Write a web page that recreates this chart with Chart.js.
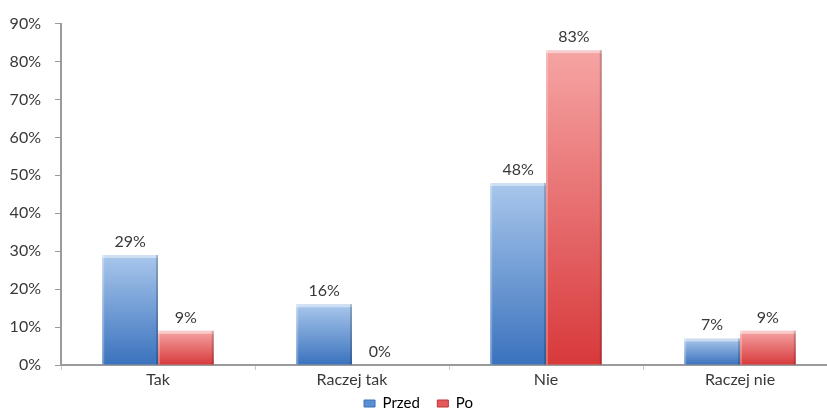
<!DOCTYPE html>
<html>
<head>
<meta charset="utf-8">
<script src="https://cdn.jsdelivr.net/npm/chart.js@4.4.1/dist/chart.umd.min.js"></script>
<style>
  html, body { margin: 0; padding: 0; background: #fff; overflow: hidden; }
  #wrap { width: 837px; height: 413px; }
</style>
</head>
<body>
<div id="wrap"><canvas id="c" width="837" height="413"></canvas></div>
<script>
// Survey answers before and after, in percent
const categories = ['Tak', 'Raczej tak', 'Nie', 'Raczej nie'];
const przed = [29, 16, 48, 7];
const po = [9, 0, 83, 9];
const yTicks = [0, 10, 20, 30, 40, 50, 60, 70, 80, 90];

const textColor = '#383838';
const fontFamily = 'Lato, "Noto Sans", sans-serif';

// Vertical gradient spanning one bar, from its top down to the baseline
function barGradient(light, dark) {
  return function (ctx) {
    const chart = ctx.chart;
    const y = chart.scales.y;
    if (!y || ctx.type !== 'data') return dark;
    const v = ctx.raw || 0;
    const top = y.getPixelForValue(v);
    const base = y.getPixelForValue(0);
    if (!isFinite(top) || !isFinite(base) || base - top < 1) return dark;
    const g = chart.ctx.createLinearGradient(0, top, 0, base);
    g.addColorStop(0, light);
    g.addColorStop(1, dark);
    return g;
  };
}

// Percent labels above each bar
const valueLabels = {
  id: 'valueLabels',
  afterDatasetsDraw(chart) {
    const ctx = chart.ctx;
    ctx.save();
    ctx.fillStyle = textColor;
    ctx.font = '16px ' + fontFamily;
    ctx.textAlign = 'center';
    ctx.textBaseline = 'alphabetic';
    chart.data.datasets.forEach((ds, di) => {
      chart.getDatasetMeta(di).data.forEach((bar, i) => {
        ctx.fillText(ds.data[i] + '%', bar.x, bar.y - 8);
      });
    });
    ctx.restore();
  }
};

// Light top edge and darker sides give the bars a bevelled look
const bevel = {
  id: 'bevel',
  afterDatasetsDraw(chart) {
    const ctx = chart.ctx;
    ctx.save();
    chart.data.datasets.forEach((ds, di) => {
      chart.getDatasetMeta(di).data.forEach((bar) => {
        const h = bar.base - bar.y;
        if (h < 2) return;
        const l = bar.x - bar.width / 2, r = bar.x + bar.width / 2;
        ctx.fillStyle = 'rgba(255,255,255,0.45)';
        ctx.fillRect(l, bar.y, bar.width, 3);
        ctx.fillStyle = 'rgba(255,255,255,0.25)';
        ctx.fillRect(l, bar.y, 2, h);
        ctx.fillStyle = 'rgba(0,0,0,0.18)';
        ctx.fillRect(r - 2, bar.y, 2, h);
      });
    });
    ctx.restore();
  }
};

new Chart(document.getElementById('c'), {
  type: 'bar',
  data: {
    labels: categories,
    datasets: [
      {
        label: 'Przed',
        data: przed,
        backgroundColor: barGradient('#a9c7ec', '#3a72bd'),
        borderWidth: 0,
        categoryPercentage: 0.575,
        barPercentage: 1
      },
      {
        label: 'Po',
        data: po,
        backgroundColor: barGradient('#f6a4a4', '#d8393b'),
        borderWidth: 0,
        categoryPercentage: 0.575,
        barPercentage: 1
      }
    ]
  },
  options: {
    responsive: false,
    animation: false,
    layout: { padding: { top: 10, right: 0, left: 0, bottom: -8 } },
    plugins: {
      tooltip: { enabled: false },
      legend: {
        position: 'bottom',
        labels: {
          color: textColor,
          font: { size: 15, family: fontFamily, lineHeight: 1 },
          boxWidth: 11,
          boxHeight: 7,
          padding: 6,
          generateLabels() {
            return [
              { text: 'Przed   ', fillStyle: '#5b8fd0', strokeStyle: '#3a72bd', lineWidth: 1, datasetIndex: 0 },
              { text: 'Po', fillStyle: '#e25a5c', strokeStyle: '#c03335', lineWidth: 1, datasetIndex: 1 }
            ];
          }
        }
      }
    },
    scales: {
      x: {
        grid: { display: true, drawOnChartArea: false, tickLength: 5, color: '#c8c8c8', offset: true },
        border: { display: true, color: '#9a9a9a', width: 2 },
        ticks: { color: textColor, font: { size: 16, family: fontFamily, lineHeight: 1 }, padding: 2 }
      },
      y: {
        min: 0,
        max: 90,
        afterBuildTicks(scale) { scale.ticks = yTicks.map(v => ({ value: v })); },
        afterFit(scale) { scale.width = 61; },
        grid: { display: true, drawOnChartArea: false, tickLength: 6, color: '#9a9a9a' },
        border: { display: true, color: '#9a9a9a', width: 2 },
        ticks: {
          color: textColor,
          font: { size: 16, family: fontFamily },
          padding: 14,
          callback: v => v + '%'
        }
      }
    }
  },
  plugins: [bevel, valueLabels]
});
</script>
</body>
</html>
